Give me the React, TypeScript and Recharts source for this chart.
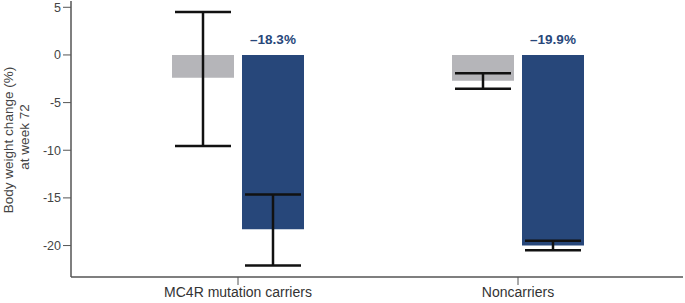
import React from 'react';
import {
  BarChart,
  Bar,
  XAxis,
  YAxis,
  ErrorBar,
  LabelList,
} from 'recharts';

const groups = ['MC4R mutation carriers', 'Noncarriers'];
const placeboChange = [-2.4, -2.7];
const placeboError = [[7.15, 6.9], [0.86, 0.78]];
const treatedChange = [-18.3, -20.0];
const treatedError = [[3.8, 3.66], [0.5, 0.5]];
const treatedLabels = ['–18.3%', '–19.9%'];
const yTicks = [5, 0, -5, -10, -15, -20];

const data = groups.map((name, i) => ({
  name,
  placebo: placeboChange[i],
  placeboErr: placeboError[i],
  treated: treatedChange[i],
  treatedErr: treatedError[i],
  label: treatedLabels[i],
}));

const AXIS = '#555555';
const GREY = '#b5b5b9';
const BLUE = '#27477a';
const FONT = '"Liberation Sans", Arial, sans-serif';

const renderValueLabel = (props: any) => {
  const { x, y, width, height, value } = props;
  const top = Math.min(y, y + height);
  return (
    <text
      x={x + width / 2}
      y={top - 15}
      textAnchor="middle"
      dominantBaseline="central"
      fill={BLUE}
      fontSize={13.5}
      fontWeight={700}
      fontFamily={FONT}
    >
      {value}
    </text>
  );
};

const YTitle = () => (
  <g>
    <text
      transform="translate(8,140) rotate(-90)"
      textAnchor="middle"
      dominantBaseline="central"
      fill="#444"
      fontSize={13.5}
      fontFamily={FONT}
    >
      Body weight change (%)
    </text>
    <text
      transform="translate(24,137) rotate(-90)"
      textAnchor="middle"
      dominantBaseline="central"
      fill="#444"
      fontSize={13.5}
      fontFamily={FONT}
    >
      at week 72
    </text>
  </g>
);

export default function App() {
  return (
    <div style={{ position: 'absolute', left: 0, top: 0, background: '#fff' }}>
      <BarChart
        width={685}
        height={303}
        data={data}
        margin={{ top: 1, right: 2, bottom: 0, left: 0 }}
        barSize={62}
        barGap={8}
      >
        <XAxis
          dataKey="name"
          xAxisId={0}
          height={26}
          padding={{ left: 27, right: 25 }}
          axisLine={{ stroke: AXIS, strokeWidth: 1.5 }}
          tickLine={{ stroke: AXIS }}
          tickSize={8}
          tick={{ fill: '#333', fontSize: 14, fontFamily: FONT }}
        />
        <XAxis
          xAxisId="top"
          orientation="top"
          dataKey="name"
          height={0}
          tick={false}
          tickLine={false}
          axisLine={{ stroke: AXIS, strokeWidth: 1.5 }}
        />
        <YAxis
          yAxisId={0}
          width={71}
          domain={[-23.3, 5.66]}
          ticks={yTicks}
          allowDataOverflow
          interval={0}
          axisLine={{ stroke: AXIS, strokeWidth: 1.5 }}
          tickLine={{ stroke: AXIS }}
          tickSize={8}
          tick={{ fill: '#444', fontSize: 12.5, fontFamily: FONT }}
          label={<YTitle />}
        />
        <YAxis
          yAxisId="right"
          orientation="right"
          width={0}
          tick={false}
          tickLine={false}
          axisLine={{ stroke: AXIS, strokeWidth: 1.5 }}
        />
        <Bar dataKey="placebo" fill={GREY} isAnimationActive={false}>
          <ErrorBar dataKey="placeboErr" width={28} stroke="#111" strokeWidth={2.5} />
        </Bar>
        <Bar dataKey="treated" fill={BLUE} isAnimationActive={false}>
          <ErrorBar dataKey="treatedErr" width={28} stroke="#111" strokeWidth={2.5} />
          <LabelList dataKey="label" content={renderValueLabel} />
        </Bar>
      </BarChart>
    </div>
  );
}
